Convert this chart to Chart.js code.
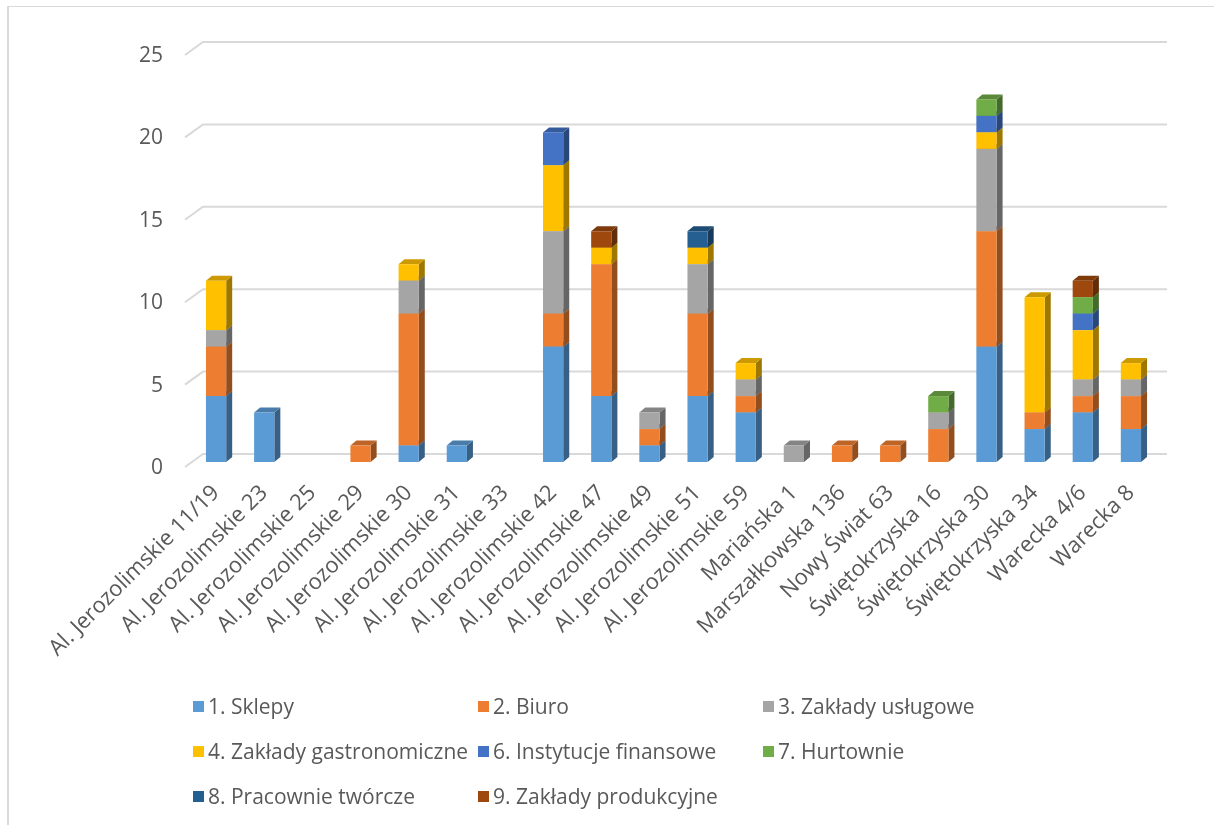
<!DOCTYPE html>
<html lang="pl">
<head>
<meta charset="utf-8">
<script src="https://cdn.jsdelivr.net/npm/chart.js@4.4.1/dist/chart.umd.min.js"></script>
<style>
    html, body { margin: 0; padding: 0; background: #fff; }
    #wrap { position: relative; width: 1214px; height: 825px; overflow: hidden; }
    #ramka {
        position: absolute; left: 7px; top: 6px; width: 1300px; height: 900px;
        border-top: 1px solid #d9d9d9; border-left: 2px solid #d9d9d9;
    }
    #legenda {
        position: absolute; left: 193px; top: 694px;
        display: grid; grid-template-columns: 285px 285px 285px; grid-auto-rows: 45px;
        font-family: "Open Sans", sans-serif; font-size: 21px; color: #595959;
    }
    .poz { display: flex; align-items: center; height: 24px; white-space: nowrap; }
    .kw { width: 11px; height: 11px; margin-right: 4px; flex: none; }
</style>
</head>
<body>
<div id="wrap">
    <div id="ramka"></div>
    <canvas id="wykres" width="1214" height="825"></canvas>
    <div id="legenda"></div>
</div>
<script>
// Adresy (kategorie osi X)
const kategorie = [
    "Al. Jerozolimskie 11/19", "Al. Jerozolimskie 23", "Al. Jerozolimskie 25",
    "Al. Jerozolimskie 29", "Al. Jerozolimskie 30", "Al. Jerozolimskie 31",
    "Al. Jerozolimskie 33", "Al. Jerozolimskie 42", "Al. Jerozolimskie 47",
    "Al. Jerozolimskie 49", "Al. Jerozolimskie 51", "Al. Jerozolimskie 59",
    "Mariańska 1", "Marszałkowska 136", "Nowy Świat 63", "Świętokrzyska 16",
    "Świętokrzyska 30", "Świętokrzyska 34", "Warecka 4/6", "Warecka 8"
];

// Liczba lokali wg rodzaju
const sklepy      = [4, 3, 0, 0, 1, 1, 0, 7, 4, 1, 4, 3, 0, 0, 0, 0, 7, 2, 3, 2];
const biuro       = [3, 0, 0, 1, 8, 0, 0, 2, 8, 1, 5, 1, 0, 1, 1, 2, 7, 1, 1, 2];
const uslugowe    = [1, 0, 0, 0, 2, 0, 0, 5, 0, 1, 3, 1, 1, 0, 0, 1, 5, 0, 1, 1];
const gastro      = [3, 0, 0, 0, 1, 0, 0, 4, 1, 0, 1, 1, 0, 0, 0, 0, 1, 7, 3, 1];
const finansowe   = [0, 0, 0, 0, 0, 0, 0, 2, 0, 0, 0, 0, 0, 0, 0, 0, 1, 0, 1, 0];
const hurtownie   = [0, 0, 0, 0, 0, 0, 0, 0, 0, 0, 0, 0, 0, 0, 0, 1, 1, 0, 1, 0];
const tworcze     = [0, 0, 0, 0, 0, 0, 0, 0, 0, 0, 1, 0, 0, 0, 0, 0, 0, 0, 0, 0];
const produkcyjne = [0, 0, 0, 0, 0, 0, 0, 0, 1, 0, 0, 0, 0, 0, 0, 0, 0, 0, 1, 0];

const nazwySerii = [
    "1. Sklepy", "2. Biuro", "3. Zakłady usługowe", "4. Zakłady gastronomiczne",
    "6. Instytucje finansowe", "7. Hurtownie", "8. Pracownie twórcze", "9. Zakłady produkcyjne"
];
const wartosci = [sklepy, biuro, uslugowe, gastro, finansowe, hurtownie, tworcze, produkcyjne];

const KOLORY = ["#5B9BD5", "#ED7D31", "#A5A5A5", "#FFC000", "#4472C4", "#70AD47", "#255E91", "#9E480E"];

const Y_MAX = 25;
const Y_KROK = 5;

const FONT = "'Open Sans', sans-serif";
const SZARY = "#595959";

// przyciemnienie koloru (boki słupków 3D)
function ciemniej(hex, f) {
    const n = parseInt(hex.slice(1), 16);
    const r = Math.round(((n >> 16) & 255) * f);
    const g = Math.round(((n >> 8) & 255) * f);
    const b = Math.round((n & 255) * f);
    return `rgb(${r},${g},${b})`;
}

// -------- efekt 3D: tylna ściana z siatką + boki i wierzch słupków --------
const efekt3d = {
    id: "efekt3d",
    beforeDatasetsDraw(chart) {
        const ctx = chart.ctx;
        const y = chart.scales.y;
        const area = chart.chartArea;
        const dx = 6, dy = 5;

        // siatka na tylnej ścianie
        ctx.save();
        ctx.strokeStyle = "#d9d9d9";
        ctx.lineWidth = 2;
        for (let v = 0; v <= Y_MAX; v += Y_KROK) {
            const py = y.getPixelForValue(v);
            ctx.beginPath();
            ctx.moveTo(area.left - 7, py + 5);
            ctx.lineTo(area.left + 11, py - 8);
            ctx.lineTo(area.right + 12, py - 8);
            ctx.stroke();
        }
        ctx.restore();

        chart.data.datasets.forEach((ds, i) => {
            const meta = chart.getDatasetMeta(i);
            meta.data.forEach((el, j) => {
                if (!ds.data[j]) return;
                const p = el.getProps(["x", "y", "base", "width"], true);
                const l = p.x - p.width / 2;
                const r = p.x + p.width / 2;
                const top = Math.min(p.y, p.base);
                const bot = Math.max(p.y, p.base);

                ctx.save();
                ctx.fillStyle = ciemniej(KOLORY[i], 0.62);
                ctx.beginPath();
                ctx.moveTo(r, bot);
                ctx.lineTo(r, top);
                ctx.lineTo(r + dx, top - dy);
                ctx.lineTo(r + dx, bot - dy);
                ctx.closePath();
                ctx.fill();

                ctx.fillStyle = ciemniej(KOLORY[i], 0.8);
                ctx.beginPath();
                ctx.moveTo(l, top);
                ctx.lineTo(l + dx, top - dy);
                ctx.lineTo(r + dx, top - dy);
                ctx.lineTo(r, top);
                ctx.closePath();
                ctx.fill();
                ctx.restore();
            });
        });
    }
};

const datasets = nazwySerii.map((nazwa, i) => ({
    label: nazwa,
    data: wartosci[i],
    backgroundColor: KOLORY[i],
    borderWidth: 0,
    categoryPercentage: 1,
    barPercentage: 0.42
}));

const chart = new Chart(document.getElementById("wykres"), {
    type: "bar",
    data: { labels: kategorie, datasets },
    plugins: [efekt3d],
    options: {
        responsive: false,
        animation: false,
        layout: { padding: { left: 0, right: 59, top: 50, bottom: 0 } },
        plugins: {
            legend: { display: false },
            tooltip: { enabled: false }
        },
        scales: {
            x: {
                stacked: true,
                grid: { display: false, drawTicks: false },
                border: { display: false },
                ticks: {
                    autoSkip: false,
                    minRotation: 45,
                    maxRotation: 45,
                    padding: 18,
                    color: SZARY,
                    font: { family: FONT, size: 22 }
                },
                afterFit: s => { s.height = 363; }
            },
            y: {
                stacked: true,
                min: 0,
                max: Y_MAX,
                grid: { display: false, drawTicks: false },
                border: { display: false },
                ticks: {
                    stepSize: Y_KROK,
                    padding: 29,
                    labelOffset: 6,
                    color: SZARY,
                    font: { family: FONT, size: 21 }
                },
                afterFit: s => { s.width = 192; }
            }
        }
    }
});

// -------- legenda w trzech kolumnach --------
const legenda = document.getElementById("legenda");
chart.data.datasets.forEach(ds => {
    legenda.innerHTML += `
        <div class="poz">
            <span class="kw" style="background:${ds.backgroundColor}"></span>
            <span>${ds.label}</span>
        </div>
    `;
});
</script>
</body>
</html>
